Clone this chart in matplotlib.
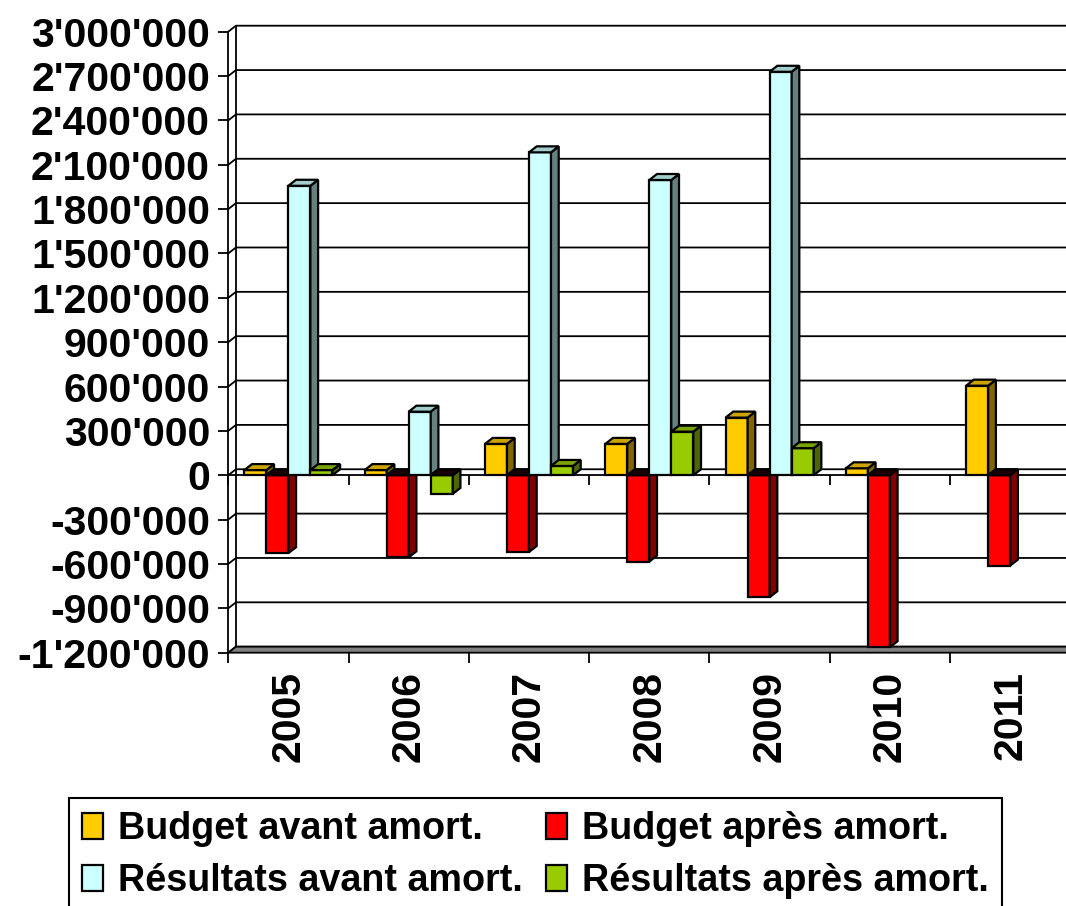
import matplotlib
matplotlib.use('Agg')
import matplotlib.pyplot as plt
from matplotlib.patches import Polygon, Rectangle
import numpy as np

plt.rcParams['font.family'] = ['Liberation Sans', 'DejaVu Sans']
plt.rcParams['font.weight'] = 'bold'
plt.rcParams['axes.unicode_minus'] = False

years = ['2005', '2006', '2007', '2008', '2009', '2010', '2011']
budget_avant = [35000, 35000, 212000, 212000, 390000, 47000, 606000]
budget_apres = [-527000, -555000, -519000, -584000, -825000, -1163000, -611000]
resultats_avant = [1958000, 430000, 2184000, 1997000, 2729000, np.nan, np.nan]
resultats_apres = [35000, -126000, 63000, 295000, 183000, np.nan, np.nan]
series_labels = ['Budget avant amort.', 'Budget après amort.',
                 'Résultats avant amort.', 'Résultats après amort.']
y_ticks = list(range(-1200000, 3000001, 300000))

front_colors = ['#FFCC00', '#FF0000', '#CCFFFF', '#99CC00']
top_colors = ['#CCA300', '#CC0000', '#A3CCCC', '#7AA300']
side_colors = ['#806600', '#800000', '#668080', '#4D6600']

fig = plt.figure(figsize=(10.66, 9.06), dpi=100)
ax = fig.add_axes([0.2141, 0.2796, 0.790, 0.6854])
ymin, ymax = -1200000, 3000000
xmin, xmax = -0.5, 6.5
ax.set_xlim(xmin, xmax)
ax.set_ylim(ymin, ymax)

# fake 3d depth (data units)
dx = 0.064
dy = 40600
w = 0.183
lw = 1.3
blw = 1.6
x = np.arange(len(years))

# back wall gridlines + left wall
for v in y_ticks:
    ax.plot([xmin, xmin + dx, xmax], [v, v + dy, v + dy], color='black',
            lw=lw, clip_on=False, zorder=1)
ax.plot([xmin + dx, xmin + dx], [ymin + dy, ymax + dy], color='black',
        lw=lw, clip_on=False, zorder=1)
floor = Polygon([(xmin, ymin), (xmax, ymin), (xmax + dx, ymin + dy), (xmin + dx, ymin + dy)],
                closed=True, fc='#808080', ec='black', lw=lw, clip_on=False, zorder=1)
ax.add_patch(floor)

series = [budget_avant, budget_apres, resultats_avant, resultats_apres]
containers = []
for k, vals in enumerate(series):
    offs = (k - 1.5) * w
    bars = ax.bar(x + offs, vals, width=w, color=front_colors[k], edgecolor='black',
                  linewidth=blw, label=series_labels[k])
    containers.append(bars)
    for i, (bar, v) in enumerate(zip(bars, vals)):
        z = 10 + 4 * i + k
        bar.set_zorder(z)
        if np.isnan(v):
            continue
        x0 = x[i] + offs - w / 2
        x1 = x0 + w
        side = Polygon([(x1, 0), (x1, v), (x1 + dx, v + dy), (x1 + dx, dy)], closed=True,
                       fc=side_colors[k], ec='black', lw=blw, zorder=z)
        ax.add_patch(side)
        top_y = max(v, 0)
        top_fc = top_colors[k] if v > 0 else '#1a0000'
        top = Polygon([(x0, top_y), (x1, top_y), (x1 + dx, top_y + dy), (x0 + dx, top_y + dy)],
                      closed=True, fc=top_fc, ec='black', lw=blw, zorder=z)
        ax.add_patch(top)

# axes styling
for s in ['top', 'right']:
    ax.spines[s].set_visible(False)
ax.spines['left'].set_linewidth(lw)
ax.spines['left'].set_zorder(2)
ax.spines['bottom'].set_position(('data', 0))
ax.spines['bottom'].set_linewidth(lw)
ax.spines['bottom'].set_zorder(2)

ax.set_yticks(y_ticks)
ax.set_yticklabels([f"{v:,}".replace(',', "'") for v in y_ticks])
ax.tick_params(axis='y', length=7.2, width=lw, pad=6.0, labelsize=29.5)

bounds = np.arange(len(years) + 1) - 0.5
ax.set_xticks(bounds)
ax.set_xticklabels([])
ax.tick_params(axis='x', length=7.2, width=lw)

sec = ax.secondary_xaxis('bottom')
sec.spines['bottom'].set_visible(False)
sec.set_xticks(bounds)
sec.set_xticklabels([])
sec.tick_params(axis='x', which='major', length=7.2, width=lw)
sec.set_xticks(x, labels=years, minor=True)
sec.tick_params(axis='x', which='minor', length=0, pad=13, labelsize=29.5, labelrotation=90)

# legend: column-major order, plus an empty row so the box runs off the bottom edge
blank = Rectangle((0, 0), 1, 1, fill=False, edgecolor='none', linewidth=0)
handles = [containers[0], containers[2], blank, containers[1], containers[3], blank]
labels = [series_labels[0], series_labels[2], ' ', series_labels[1], series_labels[3], ' ']
leg = fig.legend(handles, labels,
                 ncol=2, loc='upper left', bbox_to_anchor=(0.0647, 0.1192),
                 fontsize=27.2, frameon=True, fancybox=False, edgecolor='black',
                 framealpha=1, handlelength=0.55, handleheight=0.7, handletextpad=0.4,
                 columnspacing=0.62, labelspacing=0.43, borderpad=0.35, borderaxespad=0)
leg.get_frame().set_linewidth(1.5)

plt.savefig('out.png', dpi=100)
plt.close()
